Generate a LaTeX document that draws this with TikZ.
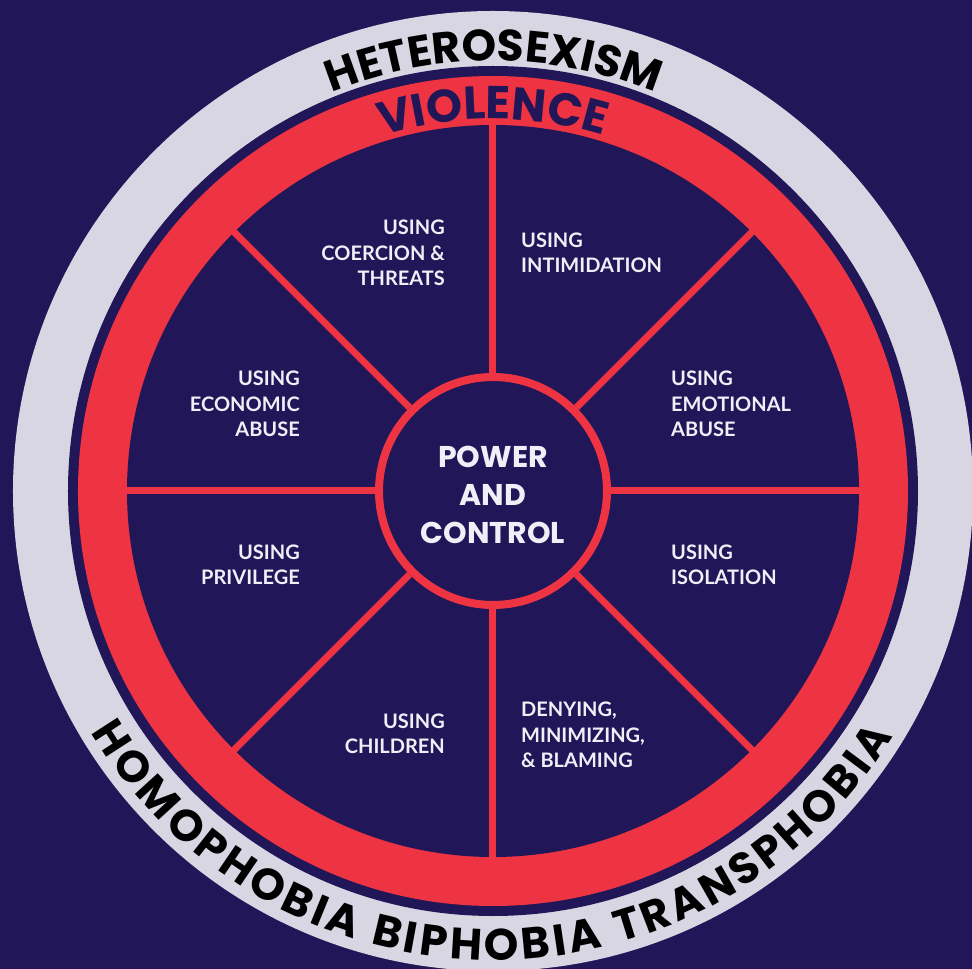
\documentclass[tikz,border=0pt]{standalone}
\usepackage{fontspec}
\usetikzlibrary{decorations.text}
\setmainfont{Lato}
\newfontfamily\ringfont{Poppins}
\definecolor{navy}{RGB}{32,22,88}
\definecolor{wheelred}{RGB}{238,52,66}
\definecolor{ringgrey}{RGB}{216,214,226}
\definecolor{labelwhite}{RGB}{240,238,246}
\newcommand{\ringtext}{\ringfont\bfseries\fontsize{44}{44}\selectfont}
\newcommand{\violtext}{\ringfont\bfseries\fontsize{46}{46}\selectfont}

\begin{document}
\begin{tikzpicture}[x=1pt,y=1pt,
    spoke/.style={wheelred,line width=7pt},
    lbl/.style={text=labelwhite,inner sep=0pt,font=\bfseries\fontsize{20}{25.5}\selectfont},
    hub/.style={circle,draw=wheelred,line width=8pt,fill=navy,minimum size=228pt},
    core/.style={text=labelwhite,align=center,font=\ringfont\bfseries\fontsize{30}{38}\selectfont}]
    \useasboundingbox (-493,-478) rectangle (479,491);
    \clip (-493,-478) rectangle (479,491);
    \fill[navy] (-493,-478) rectangle (479,491);

    % rings
    \fill[ringgrey] (0,0) circle[radius=480pt];
    \fill[navy] (0,0) circle[radius=425pt];
    \fill[wheelred] (0,0) circle[radius=415pt];
    \fill[navy] (0,0) circle[radius=366pt];

    % hub and spokes
    \node[hub] (hub) at (0,0) {};
    \node[core] (power) at (0,-4) {POWER\\AND\\CONTROL};
    \foreach \a in {0,45,...,315}{
        \coordinate (rim\a) at (\a:368);
        \draw[spoke] (hub.\a) -- (rim\a);
    }

    % segment labels
    \node[lbl,anchor=east,align=right] (coercion) at (-48,238) {USING\\COERCION \&\\THREATS};
    \node[lbl,anchor=west,align=left] (intimidation) at (28,238) {USING\\INTIMIDATION};
    \node[lbl,anchor=east,align=right] (economic) at (-193,87) {USING\\ECONOMIC\\ABUSE};
    \node[lbl,anchor=west,align=left] (emotional) at (178,87) {USING\\EMOTIONAL\\ABUSE};
    \node[lbl,anchor=east,align=right] (privilege) at (-193,-74) {USING\\PRIVILEGE};
    \node[lbl,anchor=west,align=left] (isolation) at (178,-74) {USING\\ISOLATION};
    \node[lbl,anchor=east,align=right] (children) at (-48,-243) {USING\\CHILDREN};
    \node[lbl,anchor=west,align=left] (denying) at (28,-244) {DENYING,\\MINIMIZING,\\\& BLAMING};

    % words round the wheel
    \path[decorate,decoration={text along path,text align=fit to path,text color=black,
        text={|\ringtext|HETEROSEXISM}}]
        (112:430) arc[start angle=112,end angle=68,radius=430pt];
    \path[decorate,decoration={text along path,text align=center,text color=navy,
        text={|\violtext|VIOLENCE}}]
        (135:372) arc[start angle=135,end angle=45,radius=372pt];
    \path[decorate,decoration={text along path,text align=fit to path,text color=black,
        text={|\ringtext|HOMOPHOBIA BIPHOBIA TRANSPHOBIA}}]
        (211:469) arc[start angle=211,end angle=328.5,radius=469pt];
\end{tikzpicture}
\end{document}
